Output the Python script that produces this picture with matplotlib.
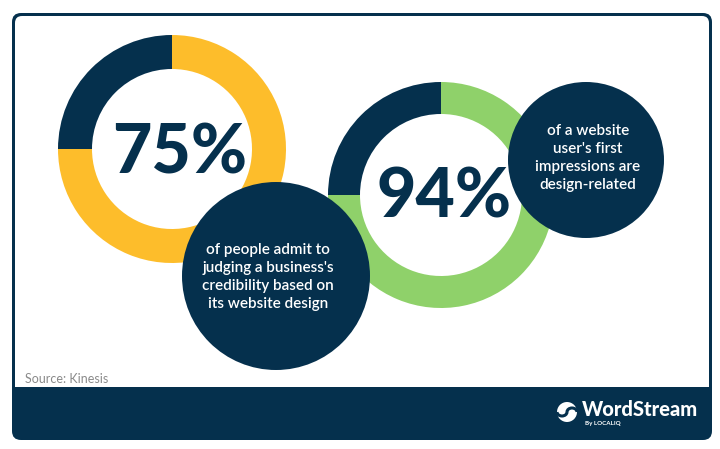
import numpy as np
import matplotlib
matplotlib.use("Agg")
from matplotlib import pyplot as plt
from matplotlib.patches import Circle, FancyBboxPatch, Rectangle, Arc

NAVY = '#05304d'
YELLOW = '#fdbd2b'
GREEN = '#8fd16a'

# stats shown in the two rings
stat_labels = ['75%', '94%']
ring_shares = [[75, 25], [75, 25]]       # coloured part / navy part, as drawn
ring_colors = [[YELLOW, NAVY], [GREEN, NAVY]]
captions = [
    "of people admit to\njudging a business's\ncredibility based on\nits website design",
    "of a website\nuser's first\nimpressions are\ndesign-related",
]
source = 'Source: Kinesis'

W, H = 720, 449
fig = plt.figure(figsize=(W / 100, H / 100), dpi=100)
ax = fig.add_axes([0, 0, 1, 1])

def Y(y):
    # image rows -> axes coords (y up)
    return H - y

# frame
ax.add_patch(FancyBboxPatch((12, Y(440)), 700, 427, boxstyle='round,pad=0,rounding_size=9',
                            fc=NAVY, ec='none'))
ax.add_patch(FancyBboxPatch((15, Y(395)), 694, 379, boxstyle='round,pad=0,rounding_size=7',
                            fc='white', ec='none'))
ax.add_patch(Rectangle((15, Y(437)), 694, 50, fc=NAVY, ec='none'))

# donut rings
ring_centers = [(172, Y(149)), (441, Y(195))]
ring_radius = [114, 113]
ring_width = [34, 32]
for shares, cols, c, r, w in zip(ring_shares, ring_colors, ring_centers, ring_radius, ring_width):
    ax.pie(shares, colors=cols, startangle=90, counterclock=False, center=c, radius=r,
           wedgeprops=dict(width=w, linewidth=0), frame=True)

# big numbers (x centre, baseline)
num_pos = [(180, Y(173)), (444, Y(217))]
for lab, (x, y) in zip(stat_labels, num_pos):
    ax.text(x, y, lab, ha='center', va='baseline', fontsize=49, fontweight='black',
            family='Lato', color=NAVY)

# caption bubbles
bubble_centers = [(276, Y(276)), (586, Y(160))]
bubble_r = [94, 78]
text_pos = [(268, Y(277)), (588, Y(158))]
for cap, c, r, (tx, ty) in zip(captions, bubble_centers, bubble_r, text_pos):
    ax.add_patch(Circle(c, r, fc=NAVY, ec='none', zorder=3))
    ax.text(tx, ty, cap, ha='center', va='center', fontsize=11, color='white',
            family='Lato', fontweight='semibold', linespacing=1.35, zorder=4)

ax.text(25, Y(379), source, ha='left', va='center', fontsize=9, color='#8a8a8a', family='Lato')

# logo
ax.add_patch(Circle((567, Y(412)), 10, fc='white', ec='none', zorder=5))
ax.add_patch(Arc((562, Y(412)), 10, 8, theta1=180, theta2=360, color=NAVY, lw=2.2, zorder=6))
ax.add_patch(Arc((572, Y(412)), 10, 8, theta1=0, theta2=180, color=NAVY, lw=2.2, zorder=6))
ax.text(582, Y(409), 'WordStream', ha='left', va='center', fontsize=14.5, fontweight='black',
        family='Lato', color='white')
ax.text(585, Y(423), 'By LOCALIQ', ha='left', va='center', fontsize=4.5, fontweight='bold',
        family='Lato', color='white')

ax.set_xlim(0, W)
ax.set_ylim(0, H)
ax.set_aspect('auto')
ax.axis('off')
fig.savefig('out.png', dpi=100, facecolor='white')
